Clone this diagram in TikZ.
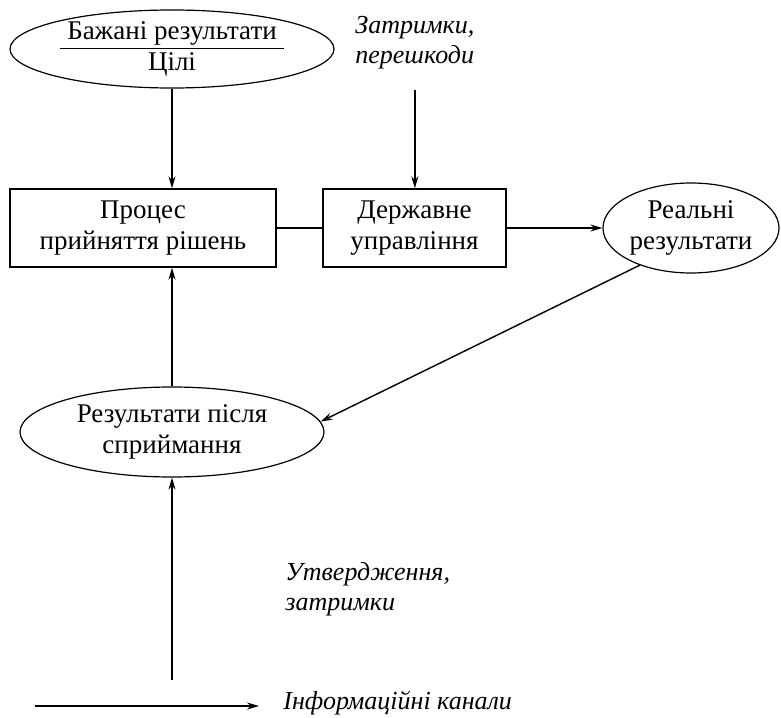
\documentclass[tikz,border=0pt]{standalone}
\usepackage{fontspec}
\setmainfont{Liberation Serif}
\usetikzlibrary{shapes.geometric,arrows.meta}

\begin{document}
\begin{tikzpicture}[x=0.5pt,y=-0.5pt,
    font=\fontsize{13.5}{15.5}\selectfont,
    box/.style={draw, line width=0.7pt, minimum height=39pt, inner sep=2pt, align=center},
    oval/.style={draw, ellipse, line width=0.6pt, inner sep=0pt, align=center},
    note/.style={font=\fontsize{13}{15}\selectfont\itshape, inner sep=0pt, align=left},
    arr/.style={line width=0.7pt, -{Stealth[length=6pt,width=3.5pt]}}]
  \useasboundingbox (0,0) rectangle (781,717);

  % Blocks
  \node[oval, minimum width=162pt, minimum height=39pt] (goal) at (172,49)
    {\underline{\;Бажані результати\;}\\Цілі};
  \node[box, minimum width=133pt] (proc) at (143,228) {Процес\\прийняття рішень};
  \node[box, minimum width=91.5pt] (gov) at (414.5,228) {Державне\\управління};
  \node[oval, minimum width=88pt, minimum height=45pt] (real) at (691,228) {Реальні\\результати};
  \node[oval, minimum width=152pt, minimum height=45pt] (perc) at (172,432)
    {Результати після\\сприймання};

  % Side notes
  \node[note, anchor=north west] (noise) at (355,16) {Затримки,\\перешкоди};
  \node[note, anchor=north west] (approv) at (285,562) {Утвердження,\\затримки};
  \node[note, anchor=west] (legend) at (283,703) {Інформаційні канали};
  \coordinate (src) at (172,680);
  \coordinate (legl) at (35,706);

  % Channels
  \draw[arr] (goal.south) -- (goal.south |- proc.north);
  \draw[arr] ([yshift=-10pt]noise.south) -- (noise.south |- gov.north);
  \draw[line width=0.7pt] (proc.east) -- (gov.west);
  \draw[arr] (gov.east) -- (real.west);
  \draw[arr] (real.216) -- (perc.4);
  \draw[arr] (perc.north) -- (perc.north |- proc.south);
  \draw[arr] (src) -- (perc.south);
  \draw[arr, shorten >=12pt] (legl) -- (legl -| legend.west);
\end{tikzpicture}
\end{document}
